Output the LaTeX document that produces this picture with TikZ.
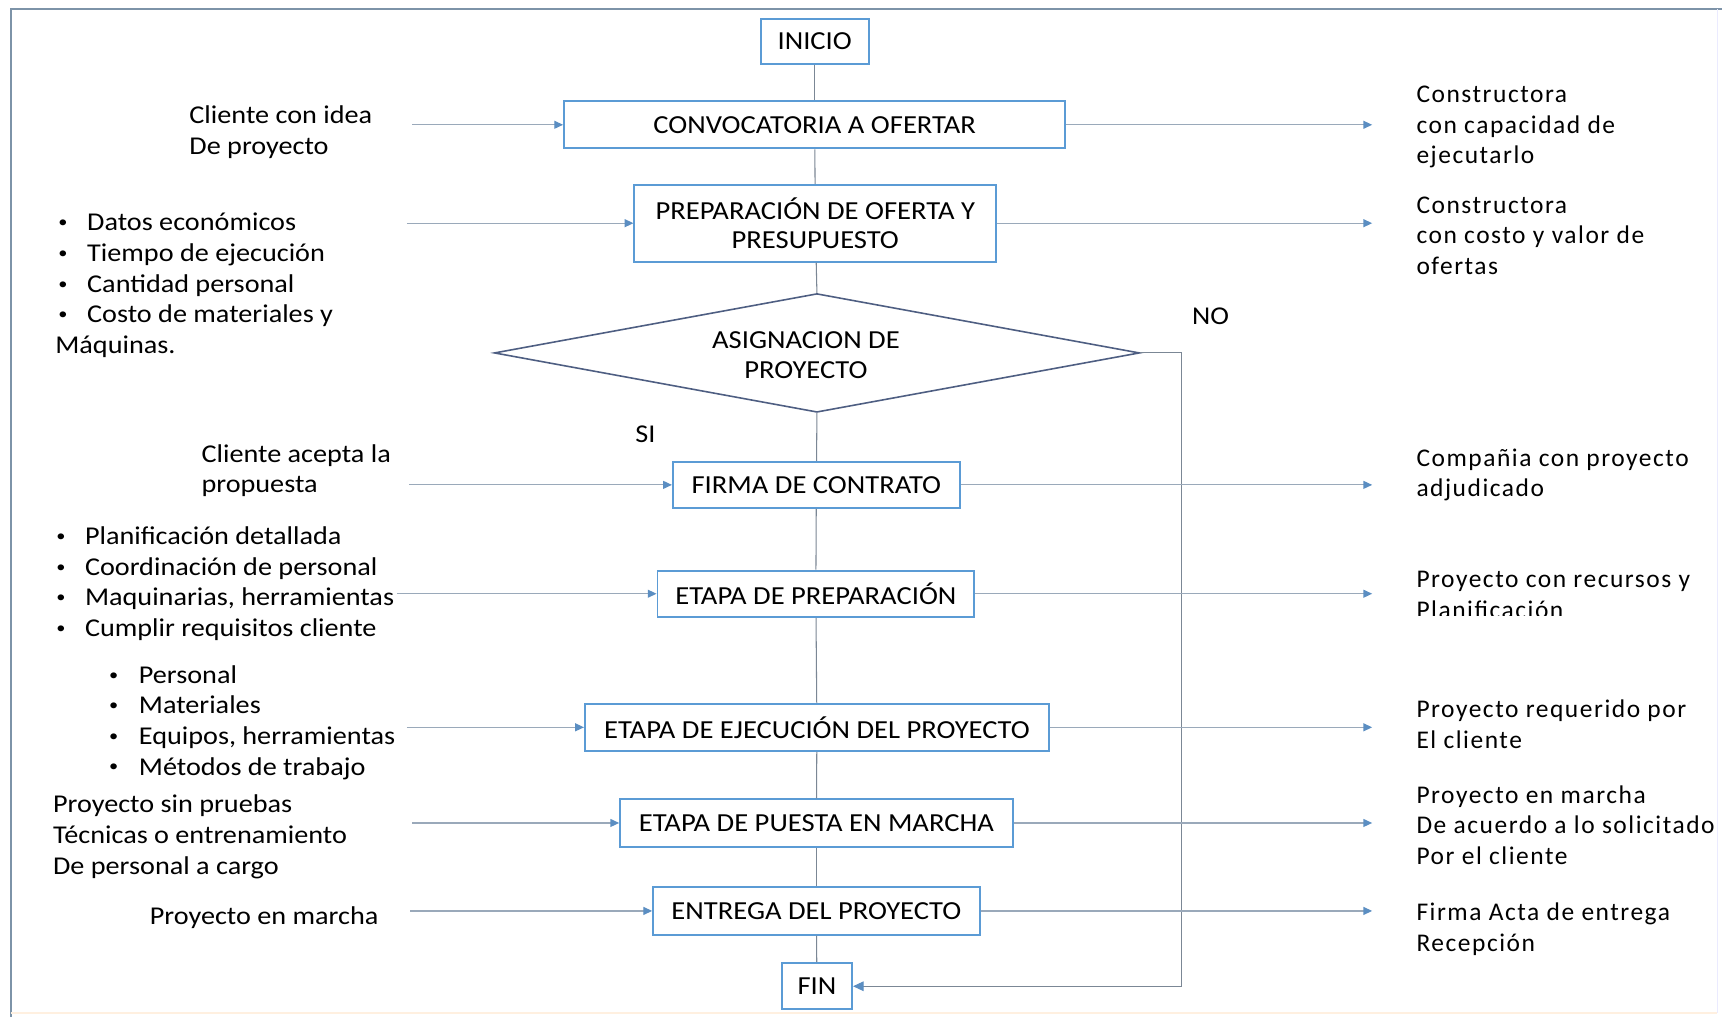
\documentclass[tikz,border=0pt]{standalone}
\usepackage{fontspec}
\setmainfont{Carlito}[FakeStretch=1.1]
\newfontfamily\rfont[LetterSpace=6]{Carlito}
\usetikzlibrary{arrows.meta,shapes.geometric}
\definecolor{boxblue}{HTML}{5B9BD5}
\definecolor{diablue}{HTML}{4E5E82}
\definecolor{linkgray}{HTML}{9AA9BA}
\definecolor{tipblue}{HTML}{5B8EC2}
\definecolor{framegray}{HTML}{7D93A8}
\newcommand{\smallbul}{\raisebox{0.12em}{\scalebox{0.65}{•}}}
\tikzset{
  stepbox/.style={draw=boxblue, line width=1.1pt, fill=white, inner sep=0pt,
    font=\fontsize{14.8}{16.8}\selectfont, align=center},
  decision/.style={shape=diamond, draw=diablue, line width=0.9pt, inner sep=0pt,
    minimum width=12.914cm, minimum height=2.376cm},
  lbl/.style={inner sep=0pt, anchor=west, align=left,
    font=\fontsize{14.6}{17.46}\selectfont},
  rlbl/.style={inner sep=0pt, anchor=west, align=left,
    font=\rfont\fontsize{14.5}{17.46}\selectfont},
  flow/.style={draw=linkgray!80!black, line width=0.6pt},
  feed/.style={draw=linkgray, line width=0.7pt,
    -{Triangle[length=5pt,width=4.5pt,color=tipblue,fill=tipblue]}},
}
\begin{document}
\begin{tikzpicture}[x=0.022cm,y=-0.022cm]
% page and frame
\useasboundingbox (0,0) rectangle (1568,925);
\fill[white] (0,0) rectangle (1568,925);
\draw[framegray, line width=1.2pt] (10,925) -- (10,8) -- (1566,8);
\draw[blue!8, line width=1pt] (1562,8) -- (1562,921);
\draw[orange!12, line width=1pt] (10,921) -- (1562,921);

% process steps
\node[stepbox, minimum width=2.156cm, minimum height=0.902cm] (ini) at (741,37.5) {INICIO};
\node[stepbox, minimum width=10.032cm, minimum height=0.946cm] (conv) at (741,113.5) {CONVOCATORIA A OFERTAR};
\node[stepbox, minimum width=7.238cm, minimum height=1.54cm] (prep) at (741.5,203) {PREPARACIÓN DE OFERTA Y\\PRESUPUESTO};
\node[decision] (asig) at (743,321) {};
\node[inner sep=0pt, align=center, font=\fontsize{14.8}{16.8}\selectfont] (asigt) at (733,323) {ASIGNACION DE\\PROYECTO};
\node[stepbox, minimum width=5.742cm, minimum height=0.924cm] (firma) at (742.5,441) {FIRMA DE CONTRATO};
\node[stepbox, minimum width=6.336cm, minimum height=0.924cm] (etp) at (742,540) {ETAPA DE PREPARACIÓN};
\node[stepbox, minimum width=9.284cm, minimum height=0.946cm] (eje) at (743,661.5) {ETAPA DE EJECUCIÓN DEL PROYECTO};
\node[stepbox, minimum width=7.854cm, minimum height=0.946cm] (pue) at (742.5,748.5) {ETAPA DE PUESTA EN MARCHA};
\node[stepbox, minimum width=6.534cm, minimum height=0.946cm] (ent) at (742.5,828.5) {ENTREGA DEL PROYECTO};
\node[stepbox, minimum width=1.408cm, minimum height=0.924cm] (fin) at (743,897) {FIN};

% decision labels
\node[lbl, anchor=center] (no) at (1101,288) {NO};
\node[lbl, anchor=center] (si) at (587,395) {SI};

% main flow
\draw[flow] (ini) -- (conv);
\draw[flow] (conv) -- (prep);
\draw[flow] (prep) -- (asig.north);
\draw[flow] (asig.south) -- (firma);
\draw[flow] (firma) -- (etp);
\draw[flow] (etp) -- (eje);
\draw[flow] (eje) -- (pue);
\draw[flow] (pue) -- (ent);
\draw[flow] (ent) -- (fin);
\coordinate (noturn) at (1075,321);
\draw[flow, -{Triangle[length=6pt,width=5.5pt,color=tipblue,fill=tipblue]}]
  (asig.east) -- (noturn) |- (fin.east);

% inputs on the left
\node[lbl] (in1) at (172,120) {Cliente con idea\\De proyecto};
\node[lbl] (in2) at (50,259.6) {\hspace*{0.06cm}\makebox[0.578cm][l]{\smallbul}Datos económicos\\
  \hspace*{0.06cm}\makebox[0.578cm][l]{\smallbul}Tiempo de ejecución\\
  \hspace*{0.06cm}\makebox[0.578cm][l]{\smallbul}Cantidad personal\\
  \hspace*{0.06cm}\makebox[0.578cm][l]{\smallbul}Costo de materiales y\\
  Máquinas.};
\node[lbl] (in3) at (183,428) {Cliente acepta la\\propuesta};
\node[lbl] (in4) at (51,530.8) {\makebox[0.572cm][l]{\smallbul}Planificación detallada\\
  \makebox[0.572cm][l]{\smallbul}Coordinación de personal\\
  \makebox[0.572cm][l]{\smallbul}Maquinarias, herramientas\\
  \makebox[0.572cm][l]{\smallbul}Cumplir requisitos cliente};
\node[lbl] (in5) at (99,657) {\makebox[0.594cm][l]{\smallbul}Personal\\
  \makebox[0.594cm][l]{\smallbul}Materiales\\
  \makebox[0.594cm][l]{\smallbul}Equipos, herramientas\\
  \makebox[0.594cm][l]{\smallbul}Métodos de trabajo};
\node[lbl] (in6) at (48,761) {Proyecto sin pruebas\\Técnicas o entrenamiento\\De personal a cargo};
\node[lbl] (in7) at (136,835) {Proyecto en marcha};

\coordinate (a1) at (375,113.5);
\coordinate (a2) at (370,203);
\coordinate (a3) at (372,441);
\coordinate (a4) at (361,540);
\coordinate (a5) at (370,661.5);
\coordinate (a6) at (375,748.5);
\coordinate (a7) at (373,828.5);
\draw[feed] (a1) -- (conv);
\draw[feed] (a2) -- (prep);
\draw[feed] (a3) -- (firma);
\draw[feed] (a4) -- (etp);
\draw[feed] (a5) -- (eje);
\draw[feed] (a6) -- (pue);
\draw[feed] (a7) -- (ent);

% outputs on the right
\coordinate (b1) at (1248,113.5);
\coordinate (b2) at (1248,203);
\coordinate (b3) at (1248,441);
\coordinate (b4) at (1248,540);
\coordinate (b5) at (1248,661.5);
\coordinate (b6) at (1248,748.5);
\coordinate (b7) at (1248,828.5);
\draw[feed] (conv) -- (b1);
\draw[feed] (prep) -- (b2);
\draw[feed] (firma) -- (b3);
\draw[feed] (etp) -- (b4);
\draw[feed] (eje) -- (b5);
\draw[feed] (pue) -- (b6);
\draw[feed] (ent) -- (b7);

\node[rlbl] (out1) at (1288,115.7) {Constructora\\con capacidad de\\ejecutarlo};
\node[rlbl] (out2) at (1288,214.3) {Constructora\\con costo y valor de\\ofertas};
\node[rlbl] (out3) at (1288,432) {Compañia con proyecto\\adjudicado};
\begin{scope}
  \clip (1270,500) rectangle (1568,559.5);
  \node[rlbl] (out4) at (1288,541) {Proyecto con recursos y\\Planificación};
\end{scope}
\node[rlbl] (out5) at (1288,659) {Proyecto requerido por\\El cliente};
\node[rlbl] (out6) at (1288,750.3) {Proyecto en marcha\\De acuerdo a lo solicitado\\Por el cliente};
\node[rlbl] (out7) at (1288,845) {Firma Acta de entrega\\Recepción};
\end{tikzpicture}
\end{document}
